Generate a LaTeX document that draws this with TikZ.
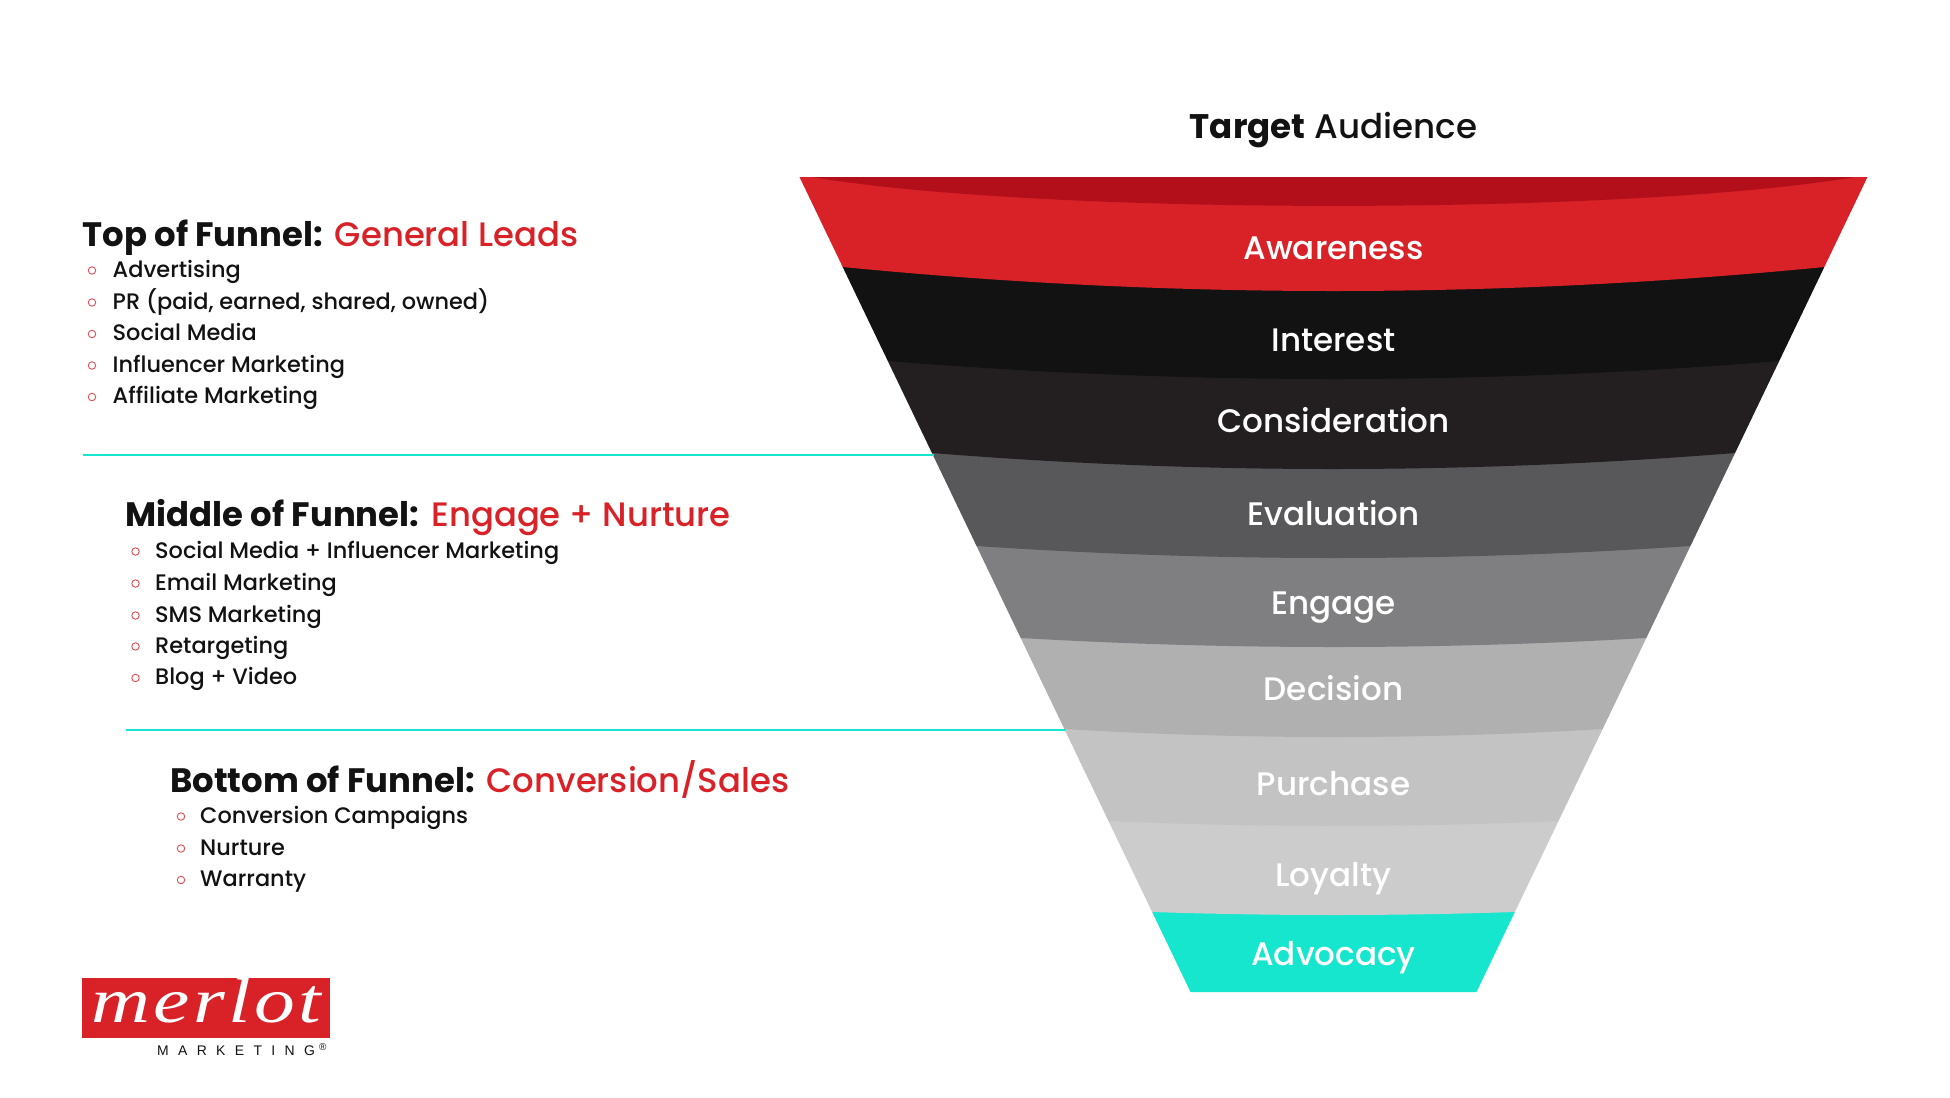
\documentclass[tikz,border=0pt]{standalone}
\usepackage{fontspec}
\setmainfont{Poppins}
\newfontfamily\pmed{Poppins Medium}
\newfontfamily\logofont{Liberation Serif}
\newfontfamily\brandfont{Liberation Sans}
\definecolor{mred}{HTML}{D92128}
\definecolor{mdark}{HTML}{B30F1A}
\definecolor{mteal}{HTML}{16E6CE}
\definecolor{mblack}{HTML}{121212}
\definecolor{bandA}{HTML}{231F20}
\definecolor{bandB}{HTML}{58585B}
\definecolor{bandC}{HTML}{7F7F81}
\definecolor{bandD}{HTML}{B0B0B0}
\definecolor{bandE}{HTML}{C3C3C3}
\definecolor{bandF}{HTML}{CCCCCC}
\newcommand{\fsz}[1]{\fontsize{#1}{#1}\selectfont}
\newcommand{\band}[4]{% colour, top y, bottom y, sag
  \pgfmathsetmacro{\hwa}{534-(#2-177)*0.4798}
  \pgfmathsetmacro{\hwb}{534-(#3-177)*0.4798}
  \fill[#1] ({1333.5-\hwa},#2) -- ({1333.5+\hwa},#2) -- ({1333.5+\hwb},#3)
    .. controls ({1333.5+\hwb/3},{#3+#4*4/3}) and ({1333.5-\hwb/3},{#3+#4*4/3}) .. ({1333.5-\hwb},#3) -- cycle;
}
\tikzset{
  bandlabel/.style={anchor=base,text=white,inner sep=0pt,font=\pmed\fsz{32.7}},
  headline/.style={anchor=base west,inner sep=0pt,font=\fsz{34},text=mblack},
  item/.style={anchor=base west,inner sep=0pt,font=\pmed\fsz{22.5},text=mblack},
  dot/.style={draw=mred!80,line width=0.9pt,fill=white,circle,minimum size=7.5pt,inner sep=0pt},
  divider/.style={draw=mteal,line width=2pt}
}
\begin{document}
\begin{tikzpicture}[x=1bp,y=-1bp]
\useasboundingbox (0,0) rectangle (1950,1097);
\fill[white] (0,0) rectangle (1950,1097);
% funnel, bottom to top so each band's curved lower edge overlaps the next
\band{mteal}{912}{992}{0}
\band{bandF}{821}{912}{3}
\band{bandE}{729}{821}{5}
\band{bandD}{638}{729}{8}
\band{bandC}{546}{638}{9}
\band{bandB}{453}{546}{12}
\band{bandA}{361}{453}{16}
\band{mblack}{267}{361}{18}
\band{mred}{177}{267}{24}
\fill[mdark] (812,177) .. controls (1040,215.5) and (1627,215.5) .. (1855,177) -- cycle;
% labels
\node[anchor=base,inner sep=0pt,font=\fsz{34.2},text=mblack] (title) at (1333.5,138) {\textbf{Target} {\pmed Audience}};
\node[bandlabel] (awareness) at (1333.5,259) {Awareness};
\node[bandlabel] (interest) at (1333.5,351) {Interest};
\node[bandlabel] (consideration) at (1333.5,432) {Consideration};
\node[bandlabel] (evaluation) at (1333.5,525.5) {Evaluation};
\node[bandlabel] (engage) at (1333.5,614) {Engage};
\node[bandlabel] (decision) at (1333.5,700.5) {Decision};
\node[bandlabel] (purchase) at (1333.5,795.5) {Purchase};
\node[bandlabel] (loyalty) at (1333.5,886) {Loyalty};
\node[bandlabel] (advocacy) at (1333.5,965) {Advocacy};
% dividers
\coordinate (d1a) at (82.5,454.5); \coordinate (d1b) at (933.5,454.5);
\coordinate (d2a) at (125.5,730); \coordinate (d2b) at (1066,730);
\draw[divider] (d1a) -- (d1b);
\draw[divider] (d2a) -- (d2b);
% top of funnel
\node[headline] (h1) at (82.5,246) {\textbf{Top of Funnel:} {\pmed\color{mred}General Leads}};
\foreach \n/\y/\t in {a/277/Advertising,b/309/{PR (paid, earned, shared, owned)},c/340.5/Social Media,d/372/Influencer Marketing,e/403.5/Affiliate Marketing}{
  \node[item] (t\n) at (112.5,\y) {\t};
  \node[dot] (td\n) at (92,\y-6.5) {};
}
% middle of funnel
\node[headline] (h2) at (125.5,526) {\textbf{Middle of Funnel:} {\pmed\color{mred}Engage + Nurture}};
\foreach \n/\y/\t in {a/558/Social Media + Influencer Marketing,b/590/Email Marketing,c/622/SMS Marketing,d/653/Retargeting,e/684.5/Blog + Video}{
  \node[item] (m\n) at (155,\y) {\t};
  \node[dot] (md\n) at (135.5,\y-6.5) {};
}
% bottom of funnel
\node[headline] (h3) at (170,792) {\textbf{Bottom of Funnel:} {\pmed\color{mred}Conversion/Sales}};
\foreach \n/\y/\t in {a/823/Conversion Campaigns,b/855/Nurture,c/886.5/Warranty}{
  \node[item] (b\n) at (200,\y) {\t};
  \node[dot] (bd\n) at (181,\y-6.5) {};
}
% logo
\node[fill=mred,minimum width=248bp,minimum height=60bp,inner sep=0pt,anchor=north west] (logo) at (82,978) {};
\node[anchor=base,inner sep=0pt,text=white,xscale=1.28] (merlot) at (206.5,1022) {\logofont\itshape\fsz{64}\addfontfeature{LetterSpace=4}merlot};
\node[anchor=base west,inner sep=0pt,text=mblack,font=\brandfont\fsz{14}] (brand) at (157,1055) {\addfontfeature{LetterSpace=67}MARKETING};
\node[anchor=base west,inner sep=0pt,text=mblack,font=\brandfont\fsz{10}] (reg) at (319,1050) {®};
\end{tikzpicture}
\end{document}
